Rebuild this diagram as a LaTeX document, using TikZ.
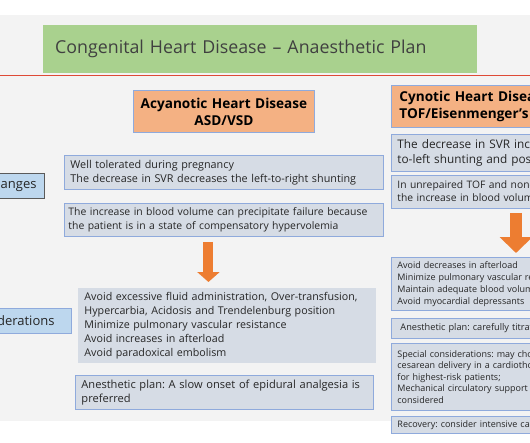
\documentclass[tikz,border=0pt]{standalone}
\usepackage{fontspec}
\setmainfont{Open Sans}
\frenchspacing
\usetikzlibrary{arrows.meta,positioning}
\definecolor{slidegray}{HTML}{F3F3F3}
\definecolor{titlegreen}{HTML}{A9D18E}
\definecolor{titletext}{HTML}{404040}
\definecolor{redrule}{HTML}{DE4A36}
\definecolor{headorange}{HTML}{F4B183}
\definecolor{boxfill}{HTML}{D6DCE5}
\definecolor{boxedge}{HTML}{8FAADC}
\definecolor{labelfill}{HTML}{BDD7EE}
\definecolor{labeledge}{HTML}{5A5A5A}
\definecolor{arroworange}{HTML}{ED7D31}
\definecolor{textdark}{HTML}{262626}
\tikzset{
  titlebox/.style={fill=titlegreen, anchor=north west, align=left, inner xsep=12pt,
    text=titletext, font=\fontsize{17.8}{20}\selectfont},
  headbox/.style={fill=headorange, draw=boxedge, line width=0.9pt, anchor=north west,
    align=center, inner xsep=6pt, text=black, font=\bfseries\fontsize{13.6}{17}\selectfont},
  infobox/.style={fill=boxfill, draw=boxedge, line width=0.9pt, anchor=north west,
    align=left, inner xsep=6pt, inner ysep=2pt, text=textdark,
    font=\fontsize{10.8}{14}\selectfont},
  sidelabel/.style={fill=labelfill, line width=0.9pt, anchor=east, minimum height=25pt,
    inner xsep=8pt, text=textdark, font=\fontsize{13}{15}\selectfont},
  blockarrow/.style={draw=arroworange, line width=10pt,
    -{Triangle[length=10pt,width=22pt]}},
}
\begin{document}
\begin{tikzpicture}[x=1pt,y=-1pt]
  \useasboundingbox (0,0) rectangle (530,442);
  \fill[white] (0,0) rectangle (530,442);
  \fill[slidegray] (0,15) rectangle (530,421);
  % title and rule
  \node[titlebox, text width=410pt, minimum height=48pt] (title) at (43,25)
    {Congenital Heart Disease -- Anaesthetic Plan};
  \draw[redrule, line width=1.4pt] (0,75.5) -- (530,75.5);
  % side labels
  \node[sidelabel, draw=labeledge] (changes) at (45,185.5) {Physiologic Changes};
  \node[sidelabel, draw=boxedge, inner xsep=17pt] (consid) at (72,320.5)
    {Anesthetic Considerations};
  % acyanotic column
  \node[headbox, text width=169pt, minimum height=42pt] (acyhead) at (133,90)
    {Acyanotic Heart Disease\\ASD/VSD};
  \node[infobox, text width=307pt, minimum height=34pt] (acyone) at (64,155)
    {Well tolerated during pregnancy\\
     The decrease in SVR decreases the left-to-right shunting};
  \node[infobox, text width=311pt, inner xsep=4pt, minimum height=33pt,
    font=\fontsize{10.4}{14}\selectfont] (acytwo) at (64,203)
    {The increase in blood volume can precipitate failure because\\
     the patient is in a state of compensatory hypervolemia};
  \node[infobox, draw=none, text width=286pt, minimum height=75pt,
    font=\fontsize{10.7}{14}\selectfont] (acythree) at (78,288)
    {Avoid excessive fluid administration, Over-transfusion,\\
     Hypercarbia, Acidosis and Trendelenburg position\\
     Minimize pulmonary vascular resistance\\
     Avoid increases in afterload\\
     Avoid paradoxical embolism};
  \node[infobox, text width=286pt, minimum height=34pt,
    font=\fontsize{11.1}{14}\selectfont] (acyfour) at (75,375)
    {Anesthetic plan: A slow onset of epidural analgesia is\\preferred};
  % cyanotic column
  \node[headbox, align=left, text width=200pt, minimum height=42pt, inner xsep=8pt]
    (cynhead) at (391,85) {Cynotic Heart Disease\\TOF/Eisenmenger's};
  \node[infobox, text width=250pt, minimum height=37pt,
    font=\fontsize{11.8}{15}\selectfont] (cynone) at (391,134)
    {The decrease in SVR increases the right-\\
     to-left shunting and possible cyanosis};
  \node[infobox, text width=250pt, minimum height=33pt,
    font=\fontsize{10.3}{13}\selectfont] (cyntwo) at (391,175)
    {In unrepaired TOF and non-corrected lesions\\
     the increase in blood volume is poorly tolerated};
  \node[infobox, text width=250pt, minimum height=53pt,
    font=\fontsize{9}{12}\selectfont] (cynthree) at (391,257)
    {Avoid decreases in afterload\\
     Minimize pulmonary vascular resistance\\
     Maintain adequate blood volume\\
     Avoid myocardial depressants};
  \node[infobox, text width=250pt, minimum height=20pt, inner xsep=9pt,
    font=\fontsize{9.2}{12}\selectfont] (cynfour) at (391,318)
    {Anesthetic plan: carefully titrated anesthesia};
  \node[infobox, text width=250pt, minimum height=67pt,
    font=\fontsize{9}{11.5}\selectfont] (cynfive) at (391,343)
    {Special considerations: may choose\\
     cesarean delivery in a cardiothoracic unit\\
     for highest-risk patients;\\
     Mechanical circulatory support may be\\
     considered};
  \node[infobox, text width=250pt, minimum height=17pt, inner ysep=1pt,
    font=\fontsize{9}{11.5}\selectfont] (cynsix) at (391,416)
    {Recovery: consider intensive care};
  % arrows
  \draw[blockarrow, shorten <=5pt, shorten >=6pt]
    ([xshift=-15.5pt]acytwo.south) -- ([xshift=-15.5pt]acytwo.south |- acythree.north);
  \draw[blockarrow, line width=12pt, -{Triangle[length=16pt,width=32pt]},
    shorten <=4pt, shorten >=4pt]
    ([xshift=125pt]cyntwo.south west) -- ([xshift=125pt]cyntwo.south west |- cynthree.north);
\end{tikzpicture}
\end{document}
